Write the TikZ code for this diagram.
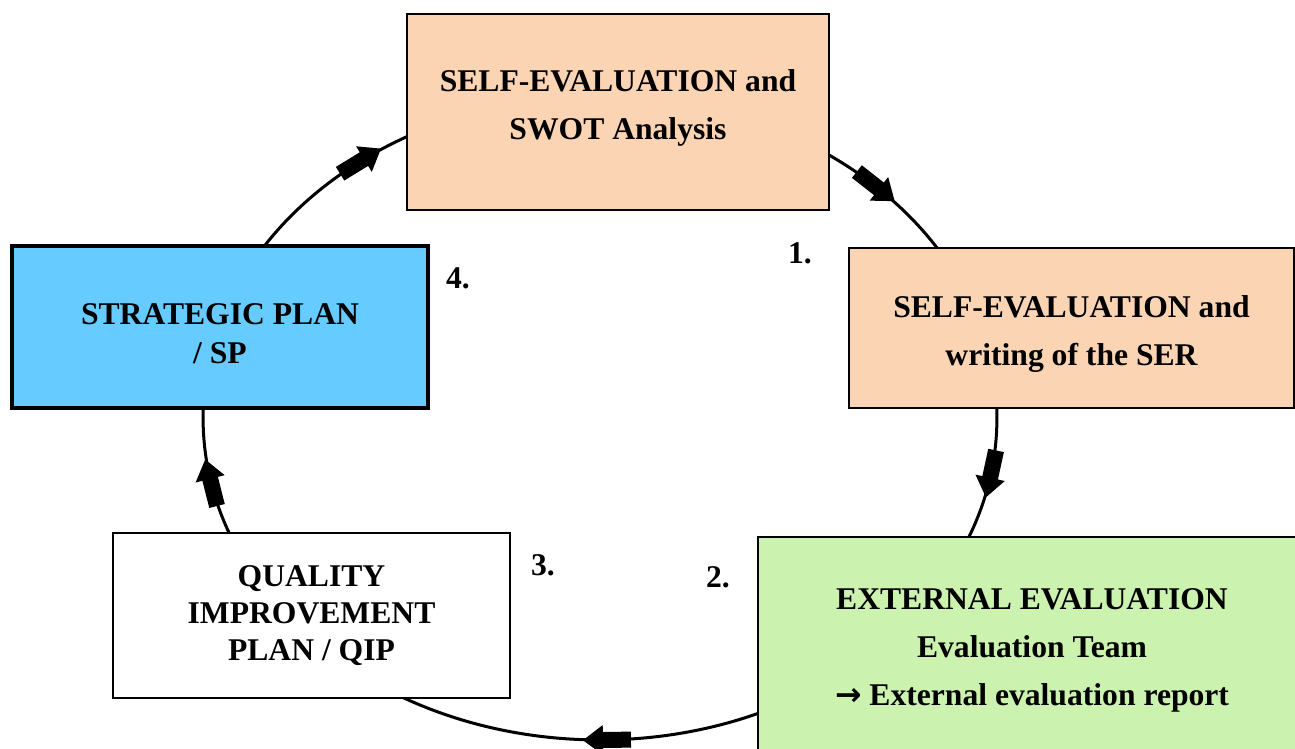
\documentclass[tikz,border=0pt]{standalone}
\usepackage{fontspec}
\setmainfont{Liberation Serif}
\newfontfamily\flechas{DejaVu Sans}
\usepackage{tikz}
\definecolor{durazno}{HTML}{FBD4B4}
\definecolor{verde}{HTML}{CCF2B0}
\definecolor{celeste}{HTML}{66CCFF}

\begin{document}
\begin{tikzpicture}[x=0.02cm, y=-0.02cm,
							caja/.style={draw, line width=0.04cm, align=center, inner sep=0pt,
								font=\fontsize{18}{27.3}\selectfont\bfseries},
							numero/.style={font=\fontsize{18}{22}\selectfont\bfseries},
							flecha/.pic={\fill (-24,-8) -- (4,-8) -- (4,-15) -- (24,0) -- (4,15) -- (4,8) -- (-24,8) -- cycle;}
							]
							\useasboundingbox (0,0) rectangle (1295,749);
							\clip (0,0) rectangle (1295,749);
							
							% Ciclo con sus flechas
							\draw[line width=0.06cm] (600,418) ellipse [x radius=7.94cm, y radius=6.44cm];
							\foreach \t in {232.9,314,10,89,168.4}{
								\pgfmathsetmacro{\ang}{atan2(-322*cos(\t),-397*sin(\t))}
								\pic[rotate=\ang] at ({600+397*cos(\t)},{418+322*sin(\t)}) {flecha};
							}
							
							% Cajas
							\node[caja, fill=durazno, minimum width=8.44cm, minimum height=3.92cm] (swot) at (618,112) {SELF-EVALUATION and\\SWOT Analysis\rule[-8.6pt]{0pt}{0pt}};
							\node[caja, fill=durazno, minimum width=8.9cm, minimum height=3.2cm] (ser) at (1071.5,328) {\rule{0pt}{19pt}SELF-EVALUATION and\\writing of the SER};
							\node[caja, fill=verde, minimum width=10.96cm, minimum height=4.36cm] (ext) at (1032,646) {\rule{0pt}{16.6pt}EXTERNAL EVALUATION\\Evaluation Team\\{\flechas →} External evaluation report};
							\node[caja, fill=white, minimum width=7.94cm, minimum height=3.3cm, font=\fontsize{18}{21}\selectfont\bfseries] (qip) at (311.5,615.5) {QUALITY\\IMPROVEMENT\\PLAN / QIP};
							\node[caja, fill=celeste, line width=0.07cm, minimum width=8.32cm, minimum height=3.24cm, font=\fontsize{18}{22.2}\selectfont\bfseries] (sp) at (220,327) {\rule{0pt}{20pt}STRATEGIC PLAN\\/ SP};
							
							% Numeros de etapa
							\node[numero] (n1) at (800,253) {1.};
							\node[numero] (n2) at (718,577) {2.};
							\node[numero] (n3) at (543,565) {3.};
							\node[numero] (n4) at (458,278) {4.};
						\end{tikzpicture}
\end{document}
